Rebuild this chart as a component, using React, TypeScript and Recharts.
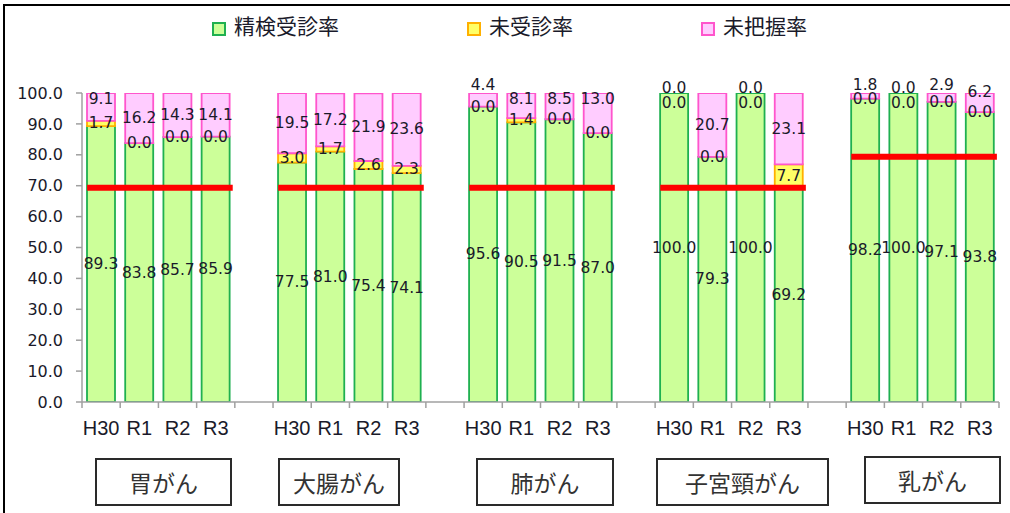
import React from 'react';
import { BarChart, Bar, XAxis, YAxis, LabelList, ReferenceLine, Legend } from 'recharts';

// ---- data ----
const GROUPS = ['胃がん', '大腸がん', '肺がん', '子宮頸がん', '乳がん'];
const YEARS = ['H30', 'R1', 'R2', 'R3'];
const SCREENED = [
  [89.3, 83.8, 85.7, 85.9],
  [77.5, 81.0, 75.4, 74.1],
  [95.6, 90.5, 91.5, 87.0],
  [100.0, 79.3, 100.0, 69.2],
  [98.2, 100.0, 97.1, 93.8],
];
const UNSCREENED = [
  [1.7, 0.0, 0.0, 0.0],
  [3.0, 1.7, 2.6, 2.3],
  [0.0, 1.4, 0.0, 0.0],
  [0.0, 0.0, 0.0, 7.7],
  [0.0, 0.0, 0.0, 0.0],
];
const UNKNOWN = [
  [9.1, 16.2, 14.3, 14.1],
  [19.5, 17.2, 21.9, 23.6],
  [4.4, 8.1, 8.5, 13.0],
  [0.0, 20.7, 0.0, 23.1],
  [1.8, 0.0, 2.9, 6.2],
];
const TARGETS = [70, 70, 70, 70, 80];
const Y_TICKS = [0, 10, 20, 30, 40, 50, 60, 70, 80, 90, 100];
const SERIES = [
  { key: 's', name: '精検受診率', fill: '#ccff99', stroke: '#1fb050' },
  { key: 'u', name: '未受診率', fill: '#ffff66', stroke: '#ffb000' },
  { key: 'n', name: '未把握率', fill: '#ffccff', stroke: '#ff55cc' },
];

// table built from the arrays (one empty slot between groups)
type Row = { key: string; label: string; s?: number; u?: number; n?: number };
const rows: Row[] = [];
GROUPS.forEach((g, gi) => {
  YEARS.forEach((y, yi) => {
    rows.push({ key: `${gi}-${y}`, label: y, s: SCREENED[gi][yi], u: UNSCREENED[gi][yi], n: UNKNOWN[gi][yi] });
  });
  if (gi < GROUPS.length - 1) rows.push({ key: `gap${gi}`, label: '' });
});
const LABEL_OF: Record<string, string> = {};
rows.forEach((r) => (LABEL_OF[r.key] = r.label));

// ---- layout ----
const W = 1010;
const H = 513;
const MARGIN = { top: 93, right: 11, bottom: 81, left: 0 };
const Y_AXIS_W = 82;
const X_AXIS_H = 30;
const PLOT_BOTTOM = H - MARGIN.bottom - X_AXIS_H;
const SLOT = (W - MARGIN.left - MARGIN.right - Y_AXIS_W) / rows.length;
const AXIS_COLOR = '#a0a0a0';
const TEXT_COLOR = '#1a1a2a';
const BOX_LAYOUT = [
  { left: 95, top: 458, width: 137 },
  { left: 278, top: 458, width: 122 },
  { left: 476, top: 458, width: 138 },
  { left: 656, top: 458, width: 173 },
  { left: 864, top: 456, width: 137 },
];

const XTick = (props: any) => {
  const { x, y, payload, index } = props;
  const label = LABEL_OF[payload.value] ?? '';
  const last = index === rows.length - 1;
  return (
    <g>
      <line x1={x - SLOT / 2} x2={x - SLOT / 2} y1={PLOT_BOTTOM} y2={PLOT_BOTTOM + 6} stroke={AXIS_COLOR} strokeWidth={1.5} />
      {last && (
        <line x1={x + SLOT / 2} x2={x + SLOT / 2} y1={PLOT_BOTTOM} y2={PLOT_BOTTOM + 6} stroke={AXIS_COLOR} strokeWidth={1.5} />
      )}
      <text x={x} y={y} dy="0.71em" textAnchor="middle" fontSize={20} fontFamily="'Liberation Sans', Arial, sans-serif" fill={TEXT_COLOR}>
        {label}
      </text>
    </g>
  );
};

const valueText = (cx: number, cy: number, value: number, key: string) => (
  <text
    key={key}
    x={cx}
    y={cy}
    textAnchor="middle"
    dominantBaseline="central"
    fontSize={15.5}
    fontFamily="'DejaVu Sans', Verdana, sans-serif"
    fill={TEXT_COLOR}
  >
    {Number(value).toFixed(1)}
  </text>
);

const boxOf = (props: any) => {
  const vb = props.viewBox && props.viewBox.width !== undefined ? props.viewBox : props;
  return vb as { x: number; y: number; width: number; height: number };
};

// centred label (green / yellow segments)
const centerLabel = (props: any) => {
  const { x, y, width, height } = boxOf(props);
  const value = props.value;
  if (value === undefined || value === null || x === undefined || value === 0) return null;
  return valueText(x + width / 2, y + height / 2, value, 'c');
};

// pink segment: small shares are lifted toward / above the top edge
const topLabel = (props: any) => {
  const { x, y, width, height } = boxOf(props);
  const value = props.value;
  if (value === undefined || value === null || x === undefined || value === 0) return null;
  let cy = y + height / 2;
  if (value < 5) cy = y - 8;
  else if (value < 7) cy = y - 1;
  else if (value < 14) cy = y + 6;
  return valueText(x + width / 2, cy, value, 't');
};

// zero-valued upper segments, placed at the top of the green segment
const zeroUnscreenedKey = (r: Row) => (r.u === 0 ? (r.n === 0 ? 'both' : 'one') : undefined);
const zeroUnscreenedLabel = (props: any) => {
  const { x, y, width } = boxOf(props);
  if ((props.value !== 'both' && props.value !== 'one') || x === undefined) return null;
  const dy = props.value === 'both' ? 10 : 0;
  return valueText(x + width / 2, y + dy, 0, 'zu');
};
const zeroUnknownLabel = (props: any) => {
  const { x, y, width } = boxOf(props);
  if (props.value !== 0 || x === undefined) return null;
  return valueText(x + width / 2, y - 5, 0, 'zn');
};

const renderLegend = (props: any) => {
  const payload: any[] = props.payload && props.payload.length ? props.payload : [];
  const items = SERIES.map((s) => {
    const p = payload.find((e) => e.dataKey === s.key);
    return { name: p?.value ?? s.name, fill: p?.color ?? s.fill, stroke: p?.payload?.stroke ?? s.stroke };
  });
  return (
    <div style={{ display: 'flex', gap: 128, alignItems: 'flex-start' }}>
      {items.map((it) => (
        <div key={it.name} style={{ display: 'flex', alignItems: 'flex-start' }}>
          <span
            style={{
              display: 'inline-block',
              width: 14,
              height: 14,
              boxSizing: 'border-box',
              border: `2px solid ${it.stroke}`,
              background: it.fill,
              marginTop: 7,
              marginRight: 8,
            }}
          />
          <span style={{ fontSize: 21, lineHeight: '21px', fontFamily: "'Noto Sans CJK JP', sans-serif", color: TEXT_COLOR }}>
            {it.name}
          </span>
        </div>
      ))}
    </div>
  );
};

export default function App() {
  return (
    <div style={{ position: 'absolute', left: 0, top: 0, width: W, height: H, overflow: 'hidden', background: '#fff' }}>
      <div
        style={{
          position: 'absolute',
          left: 3,
          top: 4,
          width: 1100,
          height: 600,
          border: '2px solid #000',
          boxSizing: 'border-box',
        }}
      />
      <div style={{ position: 'absolute', left: 0, top: 0 }}>
        <BarChart width={W} height={H} data={rows} margin={MARGIN} barSize={28}>
          <XAxis
            dataKey="key"
            interval={0}
            height={X_AXIS_H}
            tickLine={false}
            tickSize={6}
            tickMargin={13}
            tick={<XTick />}
            axisLine={{ stroke: AXIS_COLOR, strokeWidth: 1.5 }}
          />
          <YAxis
            width={Y_AXIS_W}
            domain={[0, 100]}
            allowDataOverflow
            ticks={Y_TICKS}
            interval={0}
            tickFormatter={(v: number) => v.toFixed(1)}
            tickSize={6}
            tickMargin={13}
            tick={{ fontSize: 16, fontFamily: "'DejaVu Sans', Verdana, sans-serif", fill: TEXT_COLOR }}
            tickLine={{ stroke: AXIS_COLOR, strokeWidth: 1.5 }}
            axisLine={{ stroke: AXIS_COLOR, strokeWidth: 1.5 }}
          />
          <Legend verticalAlign="middle" align="center" wrapperStyle={{ top: 15, left: 212, width: 720, height: 30 }} content={renderLegend} />
          <Bar dataKey="s" name={SERIES[0].name} stackId="a" fill={SERIES[0].fill} stroke={SERIES[0].stroke} strokeWidth={1.8} isAnimationActive={false}>
            <LabelList dataKey="s" content={centerLabel} />
            <LabelList dataKey={zeroUnscreenedKey as any} content={zeroUnscreenedLabel} />
            <LabelList dataKey="n" content={zeroUnknownLabel} />
          </Bar>
          <Bar dataKey="u" name={SERIES[1].name} stackId="a" fill={SERIES[1].fill} stroke={SERIES[1].stroke} strokeWidth={1.8} isAnimationActive={false}>
            <LabelList dataKey="u" content={centerLabel} />
          </Bar>
          <Bar dataKey="n" name={SERIES[2].name} stackId="a" fill={SERIES[2].fill} stroke={SERIES[2].stroke} strokeWidth={1.8} isAnimationActive={false}>
            <LabelList dataKey="n" content={topLabel} />
          </Bar>
          {TARGETS.map((t, gi) => (
            <ReferenceLine
              key={`t${gi}`}
              segment={[
                { x: `${gi}-${YEARS[0]}`, y: t },
                { x: `${gi}-${YEARS[YEARS.length - 1]}`, y: t },
              ]}
              stroke="#ff0000"
              strokeWidth={6}
              shape={(p: any) => (
                <line x1={p.x1 - 14} y1={p.y1 + 2} x2={p.x2 + 17} y2={p.y2 + 2} stroke="#ff0000" strokeWidth={6} />
              )}
            />
          ))}
        </BarChart>
      </div>
      {GROUPS.map((g, gi) => (
        <div
          key={g}
          style={{
            position: 'absolute',
            left: BOX_LAYOUT[gi].left,
            top: BOX_LAYOUT[gi].top,
            width: BOX_LAYOUT[gi].width,
            height: 48,
            boxSizing: 'border-box',
            border: '2px solid #2a2a2a',
            background: '#fff',
            display: 'flex',
            alignItems: 'center',
            justifyContent: 'center',
            fontSize: 23,
            fontFamily: "'Noto Sans CJK JP', sans-serif",
            color: '#333',
          }}
        >
          {g}
        </div>
      ))}
    </div>
  );
}
